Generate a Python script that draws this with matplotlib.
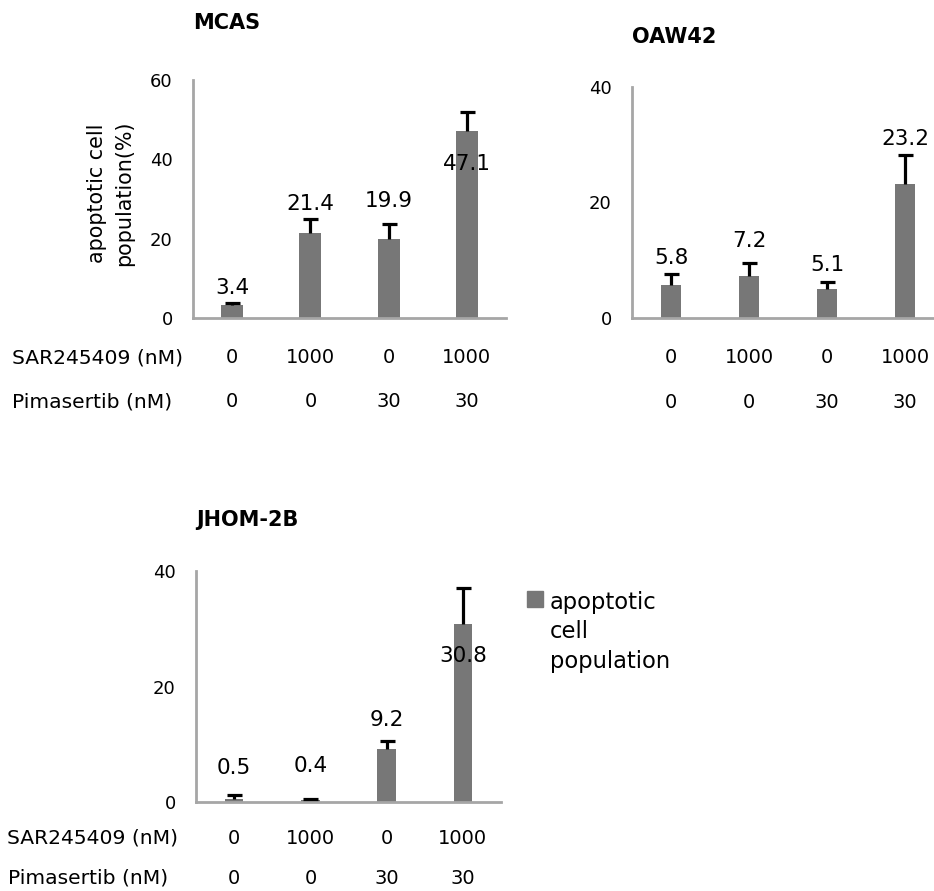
import numpy as np
import matplotlib
matplotlib.use('Agg')
import matplotlib.pyplot as plt
from matplotlib.patches import Patch

# data
sar = ['0', '1000', '0', '1000']
pima = ['0', '0', '30', '30']

mcas_vals = [3.4, 21.4, 19.9, 47.1]
mcas_err = [0.3, 3.5, 3.8, 4.8]
oaw_vals = [5.8, 7.2, 5.1, 23.2]
oaw_err = [1.9, 2.4, 1.2, 5.0]
jhom_vals = [0.5, 0.4, 9.2, 30.8]
jhom_err = [0.7, 0.15, 1.4, 6.2]

W, H = 934, 891
BAR = '#777777'
SPINE = '#a6a6a6'
PX = 72 / 100  # points per pixel

plt.rcParams['font.family'] = 'DejaVu Sans'
fig = plt.figure(figsize=(W / 100, H / 100), dpi=100)


def axes_px(left, top, right, bottom):
    return fig.add_axes([left / W, 1 - bottom / H, (right - left) / W, (bottom - top) / H])


def panel(ax, vals, errs, ymax, title, title_dy, label_dy, width, row_dy):
    x = np.arange(len(vals))
    ax.bar(x, vals, width=width, color=BAR, zorder=2)
    eb = ax.errorbar(x, vals, yerr=[np.zeros(len(vals)), errs], fmt='none', ecolor='black',
                     elinewidth=2.3, capsize=5.4, capthick=2.3, zorder=3)
    # only the upper cap, like excel's "plus" error bars
    eb[1][0].set_visible(False)
    for xi, v, dy in zip(x, vals, label_dy):
        ax.annotate(f'{v}', (xi, v), xytext=(0, dy * PX), textcoords='offset points',
                    ha='center', va='center', fontsize=15.5, zorder=4)
    ax.set_xlim(-0.5, 3.5)
    ax.set_ylim(0, ymax)
    ax.set_yticks(np.arange(0, ymax + 1, 20))
    ax.tick_params(axis='y', length=0, pad=14.5, labelsize=13)
    ax.set_xticks([])
    for s in ['top', 'right']:
        ax.spines[s].set_visible(False)
    for s in ['left', 'bottom']:
        ax.spines[s].set_color(SPINE)
        ax.spines[s].set_linewidth(2)
    ax.patch.set_alpha(0)
    ax.annotate(title, (0, 1), xycoords='axes fraction', xytext=(0, title_dy * PX),
                textcoords='offset points', ha='left', va='center',
                fontsize=15, fontweight='bold')
    for row, dy in zip([sar, pima], row_dy):
        for xi, t in zip(x, row):
            ax.annotate(t, (xi, 0), xycoords=('data', 'axes fraction'),
                        xytext=(0, -dy * PX), textcoords='offset points',
                        ha='center', va='center', fontsize=14, annotation_clip=False)


ax1 = axes_px(193, 80, 506, 318)
panel(ax1, mcas_vals, mcas_err, 60, 'MCAS', 57, [17, 29, 38, -33], 0.28, [40, 84])
ax1.set_ylabel('apoptotic cell\npopulation(%)', fontsize=14.9, linespacing=1.45, va='center')
ax1.yaxis.set_label_coords(-0.262, 0.525)

ax2 = axes_px(632, 87, 944, 318)
panel(ax2, oaw_vals, oaw_err, 40, 'OAW42', 50, [27, 35, 24, 45], 0.25, [40, 85])

ax3 = axes_px(196, 571, 501, 802)
panel(ax3, jhom_vals, jhom_err, 40, 'JHOM-2B', 51, [31, 34, 29, -32], 0.24, [36, 76])

# row captions on the left
for y, t, xl in [(358, 'SAR245409 (nM)', 12), (402, 'Pimasertib (nM)', 12),
                 (838, 'SAR245409 (nM)', 7), (878, 'Pimasertib (nM)', 8)]:
    fig.text(xl / W, 1 - y / H, t, ha='left', va='center', fontsize=14.6)

# legend
leg = fig.legend(handles=[Patch(color=BAR)], labels=['apoptotic\ncell\npopulation'],
                 loc='upper left', bbox_to_anchor=(527 / W, 1 - 591 / H), frameon=False,
                 fontsize=16.3, handlelength=0.7, handleheight=0.7, handletextpad=0.3,
                 borderpad=0, borderaxespad=0)
leg.get_texts()[0].set_linespacing(1.35)
for col in leg._legend_handle_box.get_children():
    for row in col.get_children():
        row.align = 'top'

fig.savefig('out.png', dpi=100)
